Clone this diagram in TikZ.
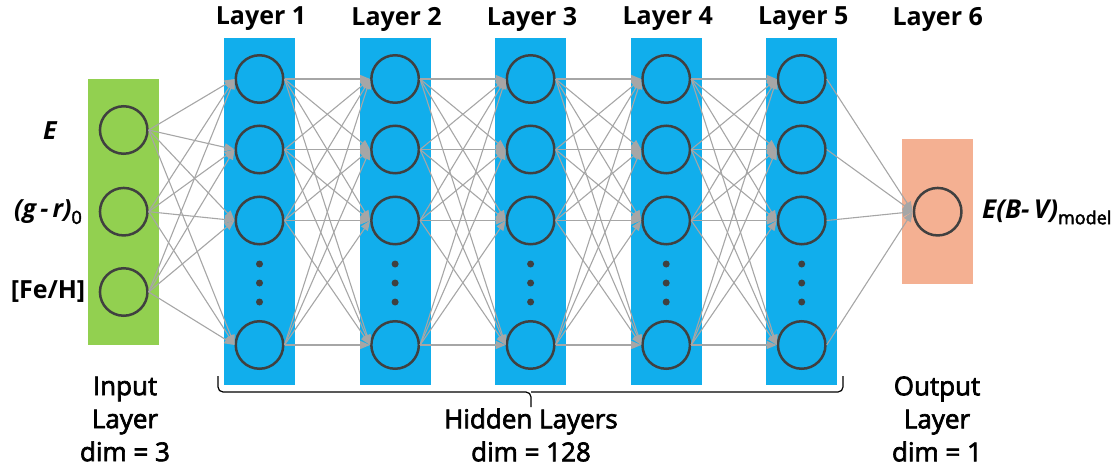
\documentclass[tikz,border=0pt]{standalone}
\usepackage{fontspec}
\setmainfont{Open Sans}
\newfontfamily\midfont[FakeBold=2.6]{Open Sans}
\usetikzlibrary{arrows.meta}
\definecolor{inputc}{RGB}{146,208,80}
\definecolor{hiddenc}{RGB}{17,174,236}
\definecolor{outputc}{RGB}{244,176,146}
\definecolor{ringc}{RGB}{64,64,64}
\definecolor{linkc}{RGB}{166,166,166}
\begin{document}
\begin{tikzpicture}[x=1pt,y=-1pt,
  font=\fontsize{25}{33}\selectfont\bfseries,
  neuron/.style={circle,draw=ringc,line width=2.5pt,minimum size=47.5pt,inner sep=0pt},
  link/.style={draw=linkc,line width=1.1pt,-{Triangle[length=10pt,width=8pt]}},
  dotc/.style={circle,fill=ringc,inner sep=0pt,minimum size=7pt},
  lbl/.style={align=center,inner sep=0pt},
  botlbl/.style={align=center,inner sep=0pt,font=\fontsize{26}{33}\selectfont\midfont\mdseries},
  bracel/.style={draw=black,line width=1.2pt,rounded corners=5pt}]
\useasboundingbox (0,0) rectangle (1119,468);
% bands
\fill[inputc] (88,79) rectangle (159,345);
\foreach \l/\x in {1/259.5,2/395.1,3/530.6,4/666.2,5/801.7}{
  \fill[hiddenc] (\x-35.5,38) rectangle (\x+35.5,385);
}
\fill[outputc] (902,139) rectangle (973,284);
% input neurons
\node[neuron] (in1) at (123.7,130) {};
\node[neuron] (in2) at (123.7,211.7) {};
\node[neuron] (in3) at (123.7,292) {};
% hidden neurons
\foreach \l/\x in {1/259.5,2/395.1,3/530.6,4/666.2,5/801.7}{
  \node[neuron] (h\l-1) at (\x,79) {};
  \node[neuron] (h\l-2) at (\x,149.5) {};
  \node[neuron] (h\l-3) at (\x,220.5) {};
  \node[neuron] (h\l-4) at (\x,345) {};
  \node[dotc] (d\l-1) at (\x,264) {};
  \node[dotc] (d\l-2) at (\x,283) {};
  \node[dotc] (d\l-3) at (\x,302) {};
  \node[lbl] (t\l) at (\x+1.5,19) {Layer \l};
}
% output neuron
\node[neuron] (out) at (937.7,211.7) {};
\node[lbl] (t6) at (937.7,19) {Layer 6};
% connections
\foreach \k in {1,2,3}{
  \foreach \j in {1,...,4}{
    \draw[link] (in\k.east) -- (h1-\j.west);
  }
}
\foreach \l/\n in {1/2,2/3,3/4,4/5}{
  \foreach \k in {1,...,4}{
    \foreach \j in {1,...,4}{
      \draw[link] (h\l-\k.east) -- (h\n-\j.west);
    }
  }
}
\foreach \k in {1,...,4}{
  \draw[link] (h5-\k.east) -- (out.west);
}
% side labels
\node[lbl] (lE) at (50,131) {\itshape E};
\node[lbl] (lG) at (48,212) {{\itshape (g\,-\,r)}\raisebox{-6pt}{\fontsize{18}{18}\selectfont\midfont\mdseries 0}};
\node[lbl] (lF) at (48,292) {[Fe/H]};
\node[lbl,anchor=west] (lO) at (982,212) {{\fontsize{26}{33}\selectfont\itshape E(B-\,V)}\raisebox{-6pt}{\fontsize{18}{18}\selectfont\midfont\mdseries model}};
% bottom labels
\node[botlbl] (bi) at (125,419) {Input\\Layer\\dim = 3};
\node[botlbl] (bh) at (531,435) {Hidden Layers\\dim = 128};
\node[botlbl] (bo) at (937,419) {Output\\Layer\\dim = 1};
% brace
\coordinate (bl) at (218,376);
\coordinate (br) at (843,376);
\coordinate (bm) at (531,392);
\coordinate (bt) at (531,407);
\draw[bracel] (bl) |- (bm) -- (bt);
\draw[bracel] (br) |- (bm);
\end{tikzpicture}
\end{document}
